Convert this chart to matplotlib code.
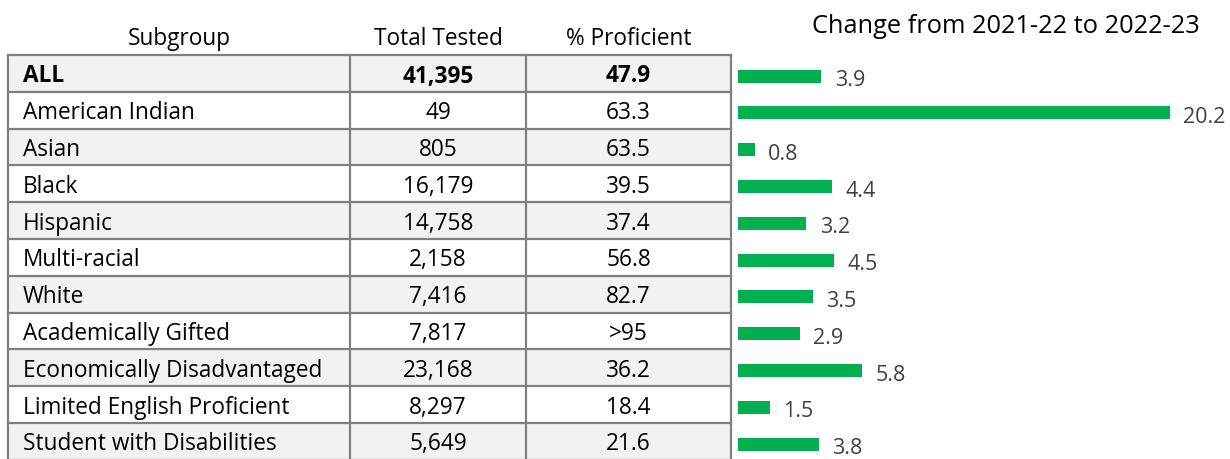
import matplotlib.pyplot as plt
from matplotlib.patches import Rectangle

subgroups = ["ALL", "American Indian", "Asian", "Black", "Hispanic", "Multi-racial",
             "White", "Academically Gifted", "Economically Disadvantaged",
             "Limited English Proficient", "Student with Disabilities"]
total_tested = ["41,395", "49", "805", "16,179", "14,758", "2,158", "7,416",
                "7,817", "23,168", "8,297", "5,649"]
pct_proficient = ["47.9", "63.3", "63.5", "39.5", "37.4", "56.8", "82.7",
                  ">95", "36.2", "18.4", "21.6"]
change = [3.9, 20.2, 0.8, 4.4, 3.2, 4.5, 3.5, 2.9, 5.8, 1.5, 3.8]
headers = ["Subgroup", "Total Tested", "% Proficient"]
chart_title = "Change from 2021-22 to 2022-23"

plt.rcParams['font.family'] = ['Open Sans', 'DejaVu Sans']

W, H = 1230, 460
fig = plt.figure(figsize=(W / 100, H / 100), dpi=100)

# table drawn in pixel coordinates
tab = fig.add_axes([0, 0, 1, 1])
tab.set_xlim(0, W)
tab.set_ylim(H, 0)
tab.axis("off")

col_edges = [8, 350, 526, 731]
top, row_h = 56, 36.8
grid_col = "#808080"
fs = 16.3

for i, name in enumerate(subgroups):
    y0 = top + i * row_h
    fill = "#f2f2f2" if i % 2 == 0 else "white"
    tab.add_patch(Rectangle((col_edges[0], y0), col_edges[-1] - col_edges[0], row_h,
                            facecolor=fill, edgecolor="none", zorder=1))
    weight = "bold" if i == 0 else "normal"
    yb = y0 + 26.5
    tab.text(col_edges[0] + 15, yb, name, ha="left", va="baseline",
             fontsize=fs, weight=weight, color="black", zorder=3)
    tab.text((col_edges[1] + col_edges[2]) / 2, yb, total_tested[i], ha="center",
             va="baseline", fontsize=fs, weight=weight, color="black", zorder=3)
    tab.text((col_edges[2] + col_edges[3]) / 2, yb, pct_proficient[i], ha="center",
             va="baseline", fontsize=fs, weight=weight, color="black", zorder=3)

bottom = top + len(subgroups) * row_h
for k in range(len(subgroups) + 1):
    y = top + k * row_h
    tab.plot([col_edges[0], col_edges[-1]], [y, y], color=grid_col, lw=1.6, zorder=2,
             solid_capstyle="projecting")
for x in col_edges:
    tab.plot([x, x], [top, bottom], color=grid_col, lw=1.6, zorder=2,
             solid_capstyle="projecting")

for j, h in enumerate(headers):
    tab.text((col_edges[j] + col_edges[j + 1]) / 2, 45, h, ha="center", va="baseline",
             fontsize=fs, color="black")
tab.text(1006, 33, chart_title, ha="center", va="baseline", fontsize=18.3, color="black")

# bar chart
bar_left, bar_right = 738, 1170
n = len(subgroups)
bar_top = top + 2.7
ax = fig.add_axes([bar_left / W, 1 - (bar_top + n * row_h) / H,
                   (bar_right - bar_left) / W, n * row_h / H])
ax.barh(range(n), change, height=0.35, color="#00b050")
ax.set_xlim(0, max(change))
ax.set_ylim(n - 0.5, -0.5)
ax.axis("off")
for i, v in enumerate(change):
    ax.annotate(f"{v:.1f}", (v, i), xytext=(9.5, -6.5), textcoords="offset points",
                ha="left", va="baseline", fontsize=15.5, color="#404040",
                annotation_clip=False)

fig.savefig("out.png", dpi=100)
